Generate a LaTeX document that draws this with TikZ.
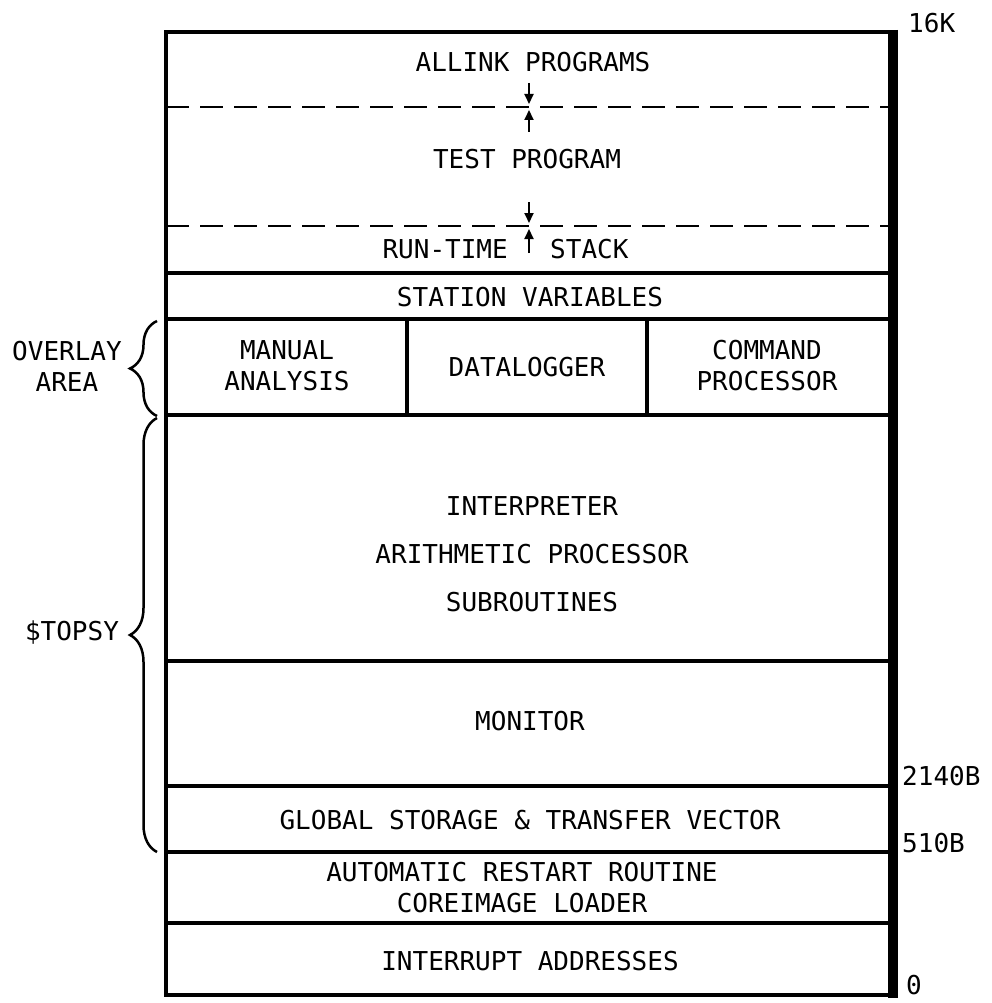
\documentclass[tikz,border=0pt]{standalone}
\usepackage{fontspec}
\newfontfamily\memfont{DejaVu Sans Mono}
\usetikzlibrary{arrows.meta, decorations.pathreplacing}

\begin{document}
\begin{tikzpicture}[
    x=1pt, y=-1pt,
    label/.style={
        inner sep=0pt,
        align=center,
        font=\memfont\fontsize{26}{31}\selectfont
    },
    divider/.style={line width=3.5pt},
    splitline/.style={line width=2.5pt, dash pattern=on 23pt off 11pt},
    arrow/.style={-{Triangle[length=10pt, width=9pt]}, line width=2pt},
    curly/.style={decorate, decoration={brace, amplitude=27pt}, line width=2.5pt}
]
\useasboundingbox (0,0) rectangle (992,1003);

% memory frame
\draw[line width=4pt] (166,32) rectangle (893,995);
\draw[line width=10pt] (893,30) -- (893,998);
\foreach \y in {273, 319, 415, 661, 786, 852, 923}
    \draw[divider] (166,\y) -- (893,\y);
\draw[divider] (407,319) -- (407,415);
\draw[divider] (647,319) -- (647,415);
\draw[splitline] (166,107) -- (888,107);
\draw[splitline] (166,226) -- (888,226);

% regions
\node[label] (allink) at (533,62) {ALLINK PROGRAMS};
\node[label] (test) at (527,159) {TEST PROGRAM};
\node[label, anchor=east] (runtime) at (508,249) {RUN-TIME};
\node[label, anchor=west] (stack) at (550,249) {STACK};
\node[label] (station) at (530,297) {STATION VARIABLES};
\node[label] (manual) at (287,366) {MANUAL\\ANALYSIS};
\node[label] (datalog) at (527,367) {DATALOGGER};
\node[label] (command) at (767,366) {COMMAND\\PROCESSOR};
\node[label] (interp) at (532,506) {INTERPRETER};
\node[label] (arith) at (532,554) {ARITHMETIC PROCESSOR};
\node[label] (subr) at (532,602) {SUBROUTINES};
\node[label] (monitor) at (530,721) {MONITOR};
\node[label] (global) at (530,820) {GLOBAL STORAGE \& TRANSFER VECTOR};
\node[label] (restart) at (522,888) {AUTOMATIC RESTART ROUTINE\\COREIMAGE LOADER};
\node[label] (interrupt) at (530,961) {INTERRUPT ADDRESSES};

% addresses
\node[label, anchor=west] (top) at (908,23) {16K};
\node[label, anchor=west] (addrA) at (902,776) {2140B};
\node[label, anchor=west] (addrB) at (902,843) {510B};
\node[label, anchor=west] (zero) at (906,985) {0};

% growth arrows
\coordinate (downA) at (529,83);
\coordinate (limitA) at (529,104);
\coordinate (upA) at (529,132);
\coordinate (limitB) at (529,110);
\coordinate (downB) at (529,202);
\coordinate (limitC) at (529,223);
\coordinate (upB) at (529,253);
\coordinate (limitD) at (529,229);
\draw[arrow] (downA) -- (limitA);
\draw[arrow] (upA) -- (limitB);
\draw[arrow] (downB) -- (limitC);
\draw[arrow] (upB) -- (limitD);

% braces
\draw[curly] (157,416) -- (157,321);
\draw[curly] (157,852) -- (157,418);
\node[label] (overlay) at (67,366) {OVERLAY\\AREA};
\node[label] (topsy) at (72,633) {\$TOPSY};
\end{tikzpicture}
\end{document}
